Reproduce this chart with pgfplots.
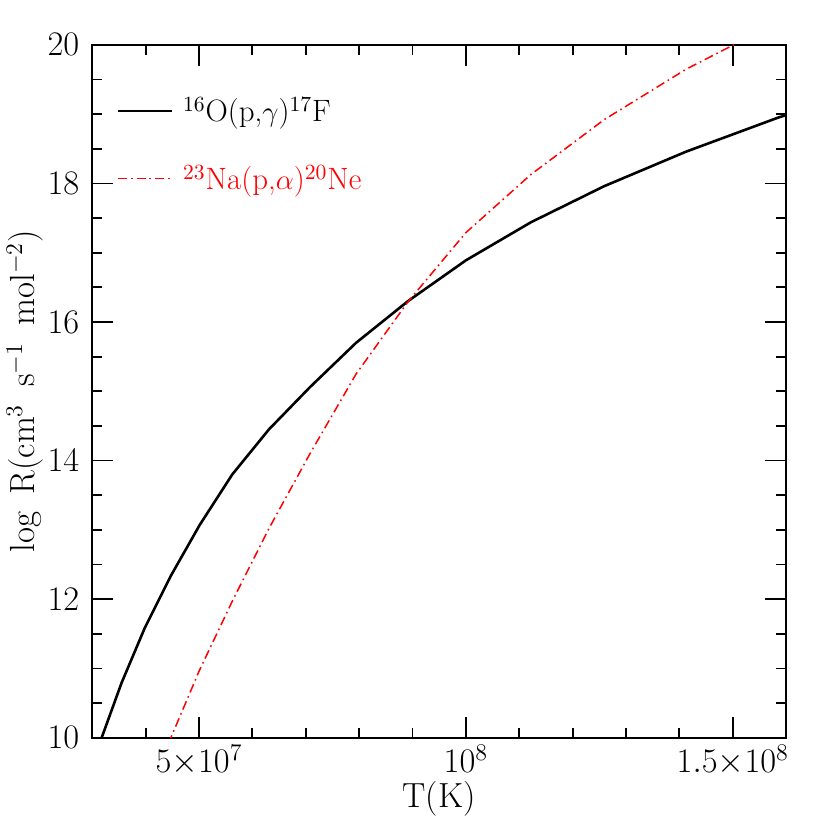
\documentclass[border=0pt]{standalone}
\usepackage{pgfplots}
\pgfplotsset{compat=1.18}
\begin{document}
\begin{tikzpicture}
\begin{axis}[
  scale only axis, width=348pt, height=347.5pt,
  xmin=3e7, xmax=1.6e8, ymin=10, ymax=20,
  xtick={5e7,1e8,1.5e8},
  xticklabels={$5{\times}10^7$,$10^8$,$1.5{\times}10^8$},
  scaled x ticks=false,
  minor xtick={3e7,4e7,6e7,7e7,8e7,9e7,1.1e8,1.2e8,1.3e8,1.4e8,1.6e8},
  ytick={10,12,14,16,18,20},
  minor ytick={10.5,11,11.5,12.5,13,13.5,14.5,15,15.5,16.5,17,17.5,18.5,19,19.5},
  tick align=inside,
  major tick length=10.5pt, minor tick length=5pt,
  every tick/.style={black, line width=0.9pt},
  axis line style={line width=1pt},
  tick label style={font=\fontsize{17}{19}\selectfont},
  yticklabel style={xshift=-3pt},
  label style={font=\fontsize{17.5}{20}\selectfont},
  xlabel={T(K)},
  ylabel={log\hspace{0.5em}R(cm$^3$\hspace{0.5em}s$^{-1}$\hspace{0.5em}mol$^{-2}$)},
  xlabel style={at={(axis description cs:0.5,-0.088)}, anchor=center},
  ylabel style={at={(axis description cs:-0.097,0.5)}, anchor=center},
  legend style={draw=none, fill=none, at={(axis description cs:0.026,0.937)}, anchor=north west,
    font=\fontsize{15.5}{17}\selectfont, row sep=16pt},
  legend cell align=left,
  legend image code/.code={\draw[#1] (0pt,0pt) -- (27pt,0pt);},
]
\addplot[black, line width=1.3pt] coordinates {
 (3.162e7,9.97) (3.548e7,10.79) (3.981e7,11.58) (4.467e7,12.33) (5.012e7,13.07)
 (5.623e7,13.80) (6.310e7,14.45) (7.079e7,15.06) (7.943e7,15.70) (8.913e7,16.30)
 (1e8,16.89) (1.122e8,17.44) (1.259e8,17.96) (1.413e8,18.46) (1.585e8,18.95) (1.778e8,19.42)
};
\addlegendentry{\hspace{3pt}\textsuperscript{16}O(p,$\gamma$)\textsuperscript{17}F}
\addplot[red, line width=0.75pt, dash pattern=on 4.5pt off 2pt on 0.8pt off 2pt] coordinates {
 (3.981e7,8.9) (4.467e7,9.99) (5.012e7,10.98) (5.623e7,11.97) (6.310e7,13.02)
 (7.079e7,14.10) (7.943e7,15.25) (8.913e7,16.29) (1e8,17.29) (1.122e8,18.13)
 (1.259e8,18.92) (1.413e8,19.65) (1.585e8,20.33)
};
\addlegendentry{\hspace{3pt}\textcolor{red}{\textsuperscript{23}Na(p,$\alpha$)\textsuperscript{20}Ne}}
\end{axis}
\path (current axis.south west) ++(-45pt,-45pt) coordinate (bl);
\path (current axis.north east) ++(22pt,22.5pt) coordinate (tr);
\path (bl) rectangle (tr);
\end{tikzpicture}
\end{document}
